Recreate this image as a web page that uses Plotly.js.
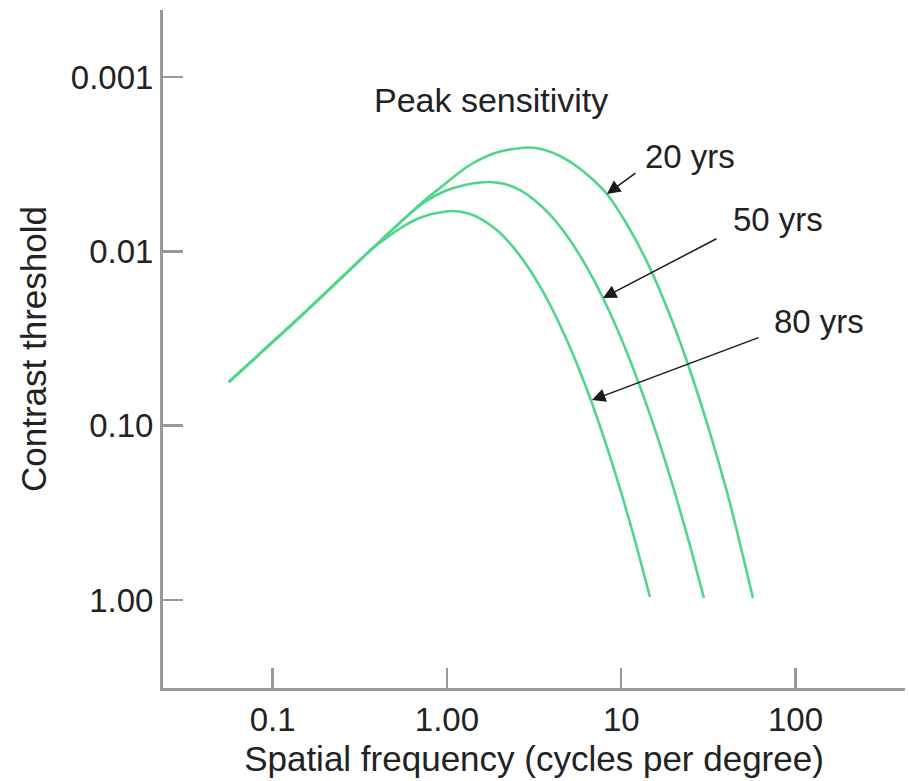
<!DOCTYPE html>
<html>
<head>
<meta charset="utf-8">
<script src="https://cdn.plot.ly/plotly-3.0.1.min.js"></script>
<style>html,body{margin:0;padding:0;background:#fff;}#chart{width:910px;height:781px;}</style>
</head>
<body>
<div id="chart"></div>
<script>
// Shared low-frequency segment (all ages)
const commonFreq = [0.0561, 0.0903, 0.1434, 0.2338, 0.3762];
const commonThr  = [0.0561, 0.03631, 0.02379, 0.01498, 0.009561];

// 20 yrs
const freq20 = [0.5742, 0.7478, 0.9739, 1.1872, 1.355, 1.652, 2.014, 2.456, 2.994, 3.650, 4.450, 5.425, 6.614, 8.278, 10.50, 13.68, 17.82, 23.83, 32.28, 42.04, 56.97];
const thr20  = [0.006433, 0.005072, 0.004105, 0.003503, 0.003194, 0.002874, 0.002672, 0.002579, 0.002535, 0.002620, 0.002836, 0.003194, 0.003742, 0.004685, 0.006693, 0.01085, 0.01972, 0.04282, 0.1098, 0.2777, 0.974];

// 50 yrs
const freq50 = [0.5742, 0.7478, 0.9739, 1.268, 1.547, 1.765, 2.151, 2.623, 3.198, 3.899, 4.753, 5.796, 7.066, 8.613, 10.50, 12.80, 16.03, 20.33, 24.79, 29.82];
const thr50  = [0.006433, 0.005208, 0.004502, 0.004159, 0.004024, 0.003997, 0.004104, 0.004456, 0.005099, 0.006157, 0.007852, 0.01057, 0.01502, 0.02250, 0.03564, 0.05950, 0.1137, 0.2430, 0.4861, 0.974];

// 80 yrs
const freq80 = [0.4408, 0.5375, 0.6553, 0.7990, 0.9485, 1.0825, 1.320, 1.609, 1.962, 2.391, 2.916, 3.555, 4.334, 5.284, 6.442, 8.062, 10.09, 12.15, 14.61];
const thr80  = [0.008490, 0.007388, 0.006606, 0.006142, 0.005943, 0.005864, 0.006038, 0.006606, 0.007645, 0.009410, 0.01229, 0.01701, 0.02498, 0.03888, 0.06433, 0.1221, 0.2498, 0.4772, 0.961];

const xTickVals = [0.1, 1, 10, 100];
const xTickText = ['0.1', '1.00', '10', '100'];
const yTickVals = [0.001, 0.01, 0.1, 1];
const yTickText = ['0.001', '0.01', '0.10', '1.00'];

const ageLabels = ['20 yrs', '50 yrs', '80 yrs'];

const green = '#4fd68a';
const FONT = '"Liberation Sans", Arial, Helvetica, sans-serif';

function series(f, t, name) {
  return {
    x: commonFreq.concat(f), y: commonThr.concat(t), name: name,
    type: 'scatter', mode: 'lines',
    line: {color: green, width: 2.6, shape: 'spline', smoothing: 0.6},
    hoverinfo: 'x+y+name'
  };
}

const data = [
  series(freq20, thr20, ageLabels[0]),
  series(freq50, thr50, ageLabels[1]),
  series(freq80, thr80, ageLabels[2])
];

const L = Math.log10;
function arrow(tipX, tipY, ax, ay) {
  return {x: L(tipX), y: L(tipY), xref: 'x', yref: 'y', text: '', showarrow: true,
    ax: ax, ay: ay, arrowhead: 2, arrowsize: 1.8, arrowwidth: 1.5, arrowcolor: '#1a1a1a', standoff: 0};
}
function label(txt, fx, fy, size) {
  return {x: L(fx), y: L(fy), xref: 'x', yref: 'y', text: txt, showarrow: false,
    font: {family: FONT, size: size, color: '#222'}, xanchor: 'center', yanchor: 'middle'};
}

const layout = {
  width: 910, height: 781,
  margin: {l: 163, r: 5, t: 10, b: 93},
  paper_bgcolor: '#fff', plot_bgcolor: '#fff',
  showlegend: false,
  font: {family: FONT, color: '#222'},
  xaxis: {
    type: 'log', range: [-1.629, 2.628],
    tickvals: xTickVals, ticktext: xTickText,
    ticks: 'inside', ticklen: 20, tickwidth: 2.5, tickcolor: '#999',
    showline: true, linecolor: '#999', linewidth: 3,
    showgrid: false, zeroline: false,
    tickfont: {family: FONT, size: 33, color: '#222'},
    title: {text: 'Spatial frequency (cycles per degree)', font: {family: FONT, size: 35, color: '#222'}, standoff: 10}
  },
  yaxis: {
    type: 'log', range: [0.505, -3.385],
    tickvals: yTickVals, ticktext: yTickText,
    ticks: 'inside', ticklen: 20, tickwidth: 2.5, tickcolor: '#999',
    showline: true, linecolor: '#999', linewidth: 3,
    showgrid: false, zeroline: false,
    tickfont: {family: FONT, size: 33, color: '#222'},
    title: {text: 'Contrast threshold', font: {family: FONT, size: 35, color: '#222'}, standoff: 14}
  },
  annotations: [
    label('Peak sensitivity', 1.788, 0.001353, 34),
    label(ageLabels[0], 24.78, 0.002873, 33),
    label(ageLabels[1], 79.3, 0.0066, 33),
    label(ageLabels[2], 136.2, 0.02541, 33),
    arrow(8.278, 0.004685, 30, -22),
    arrow(7.853, 0.01850, 115, -60),
    arrow(6.792, 0.0713, 168, -63)
  ]
};

Plotly.newPlot('chart', data, layout, {displayModeBar: false, staticPlot: true});
</script>
</body>
</html>
